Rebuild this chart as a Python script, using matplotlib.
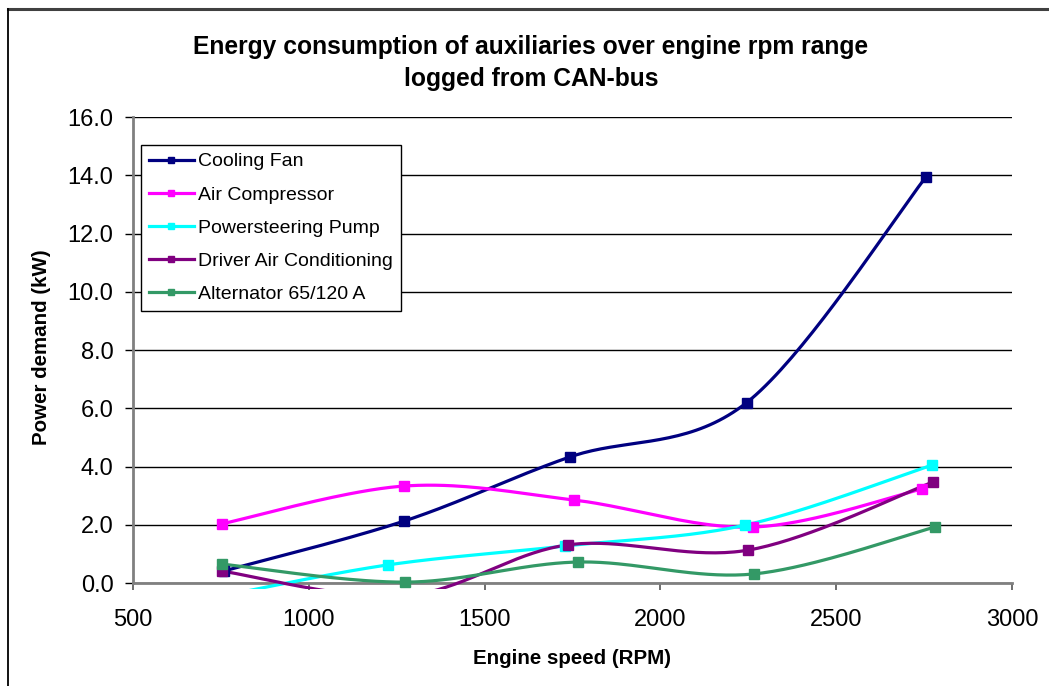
import numpy as np
import matplotlib
matplotlib.use("Agg")
import matplotlib.pyplot as plt
from matplotlib.lines import Line2D
from matplotlib.transforms import Bbox, TransformedBbox

plt.rcParams['font.family'] = ['Liberation Sans', 'DejaVu Sans']

# ---------------- data ----------------
series_names = ["Cooling Fan", "Air Compressor", "Powersteering Pump",
                "Driver Air Conditioning", "Alternator 65/120 A"]
series_colors = ["#000080", "#FF00FF", "#00FFFF", "#800080", "#339966"]

cooling_fan_rpm = [758, 1272, 1743, 2245, 2756]
cooling_fan_kw = [0.41, 2.13, 4.33, 6.19, 13.95]

air_compressor_rpm = [752, 1272, 1754, 2262, 2745]
air_compressor_kw = [2.03, 3.33, 2.85, 1.92, 3.23]

powersteering_rpm = [750, 1224, 1729, 2242, 2773]
powersteering_kw = [-0.45, 0.62, 1.27, 1.99, 4.05]

driver_ac_rpm = [752, 1270, 1737, 2250, 2776]
driver_ac_kw = [0.41, -0.45, 1.31, 1.13, 3.47]

alternator_rpm = [752, 1275, 1765, 2265, 2781]
alternator_kw = [0.65, 0.03, 0.72, 0.31, 1.92]

x_ticks = [500, 1000, 1500, 2000, 2500, 3000]
y_ticks = [0, 2, 4, 6, 8, 10, 12, 14, 16]

title_text = "Energy consumption of auxiliaries over engine rpm range\nlogged from CAN-bus"
x_label = "Engine speed (RPM)"
y_label = "Power demand (kW)"


def smooth(xs, ys, n=40):
    """Excel-like smoothed line (Catmull-Rom as cubic Bezier)."""
    P = np.column_stack([xs, ys]).astype(float)
    m = len(P)
    out = [P[0]]
    for i in range(m - 1):
        p0 = P[i - 1] if i > 0 else P[i]
        p1 = P[i]
        p2 = P[i + 1]
        p3 = P[i + 2] if i + 2 < m else P[i + 1]
        b1 = p1 + (p2 - p0) / 6.0
        b2 = p2 - (p3 - p1) / 6.0
        t = np.linspace(0, 1, n)[1:, None]
        seg = ((1 - t) ** 3) * p1 + 3 * ((1 - t) ** 2) * t * b1 \
            + 3 * (1 - t) * (t ** 2) * b2 + (t ** 3) * p2
        out.extend(seg)
    return np.array(out)


W, H = 1049, 686
fig = plt.figure(figsize=(W / 100, H / 100), dpi=100)
fig.patch.set_facecolor("white")

left_px, right_px, top_px, bottom_px = 133, 1012, 117, 583
ax = fig.add_axes([left_px / W, 1 - bottom_px / H,
                   (right_px - left_px) / W, (bottom_px - top_px) / H])

ax.set_xlim(500, 3000)
ax.set_ylim(0, 16)

# clip region slightly extended below the axis like Excel
clip = TransformedBbox(Bbox([[0, -0.012], [1, 1.0]]), ax.transAxes)

all_series = [
    (cooling_fan_rpm, cooling_fan_kw),
    (air_compressor_rpm, air_compressor_kw),
    (powersteering_rpm, powersteering_kw),
    (driver_ac_rpm, driver_ac_kw),
    (alternator_rpm, alternator_kw),
]

handles = []
for (xs, ys), name, col in zip(all_series, series_names, series_colors):
    c = smooth(xs, ys)
    ln, = ax.plot(c[:, 0], c[:, 1], color=col, lw=2.3, zorder=3)
    ln.set_clip_box(clip)
    mk, = ax.plot(xs, ys, 's', color=col, ms=6.5, zorder=4)
    mk.set_clip_box(clip)
    handles.append(Line2D([0], [0], color=col, lw=2.3, marker='s', ms=5))

ax.set_xticks(x_ticks)
ax.set_yticks(y_ticks)
ax.set_yticklabels([f"{v:.1f}" for v in y_ticks])
ax.grid(axis='y', color='black', lw=1.0, zorder=1)
ax.set_axisbelow(True)

for s in ['top', 'right']:
    ax.spines[s].set_visible(False)
for s in ['left', 'bottom']:
    ax.spines[s].set_color('#808080')
    ax.spines[s].set_linewidth(2.0)

ax.tick_params(axis='y', direction='out', length=6, width=1, color='black',
               labelsize=17, pad=8)
ax.tick_params(axis='x', direction='out', length=5, width=1.2, color='#555555',
               labelsize=17, pad=14)

leg = ax.legend(handles, series_names, loc='upper left',
                bbox_to_anchor=(141 / W, 1 - 145 / H),
                bbox_transform=fig.transFigure,
                fontsize=14, frameon=True, fancybox=False, shadow=False,
                borderaxespad=0, borderpad=0.4, labelspacing=0.8,
                handlelength=2.3, handletextpad=0.25)
leg.get_frame().set_edgecolor('black')
leg.get_frame().set_linewidth(1.0)
leg.get_frame().set_alpha(1)

fig.text(531 / W, 1 - 63 / H, title_text, ha='center', va='center',
         fontsize=17.7, fontweight='bold', linespacing=1.45)
fig.text(572 / W, 1 - 659 / H, x_label, ha='center', va='center',
         fontsize=14.8, fontweight='bold')
fig.text(42 / W, 1 - 347 / H, y_label, ha='center', va='center',
         fontsize=14.8, fontweight='bold', rotation=90)

# outer chart border
fig.add_artist(Line2D([8 / W, 1.0], [1 - 9 / H, 1 - 9 / H],
                      transform=fig.transFigure, color='#404040', lw=2.2))
fig.add_artist(Line2D([8 / W, 8 / W], [0.0, 1 - 9 / H],
                      transform=fig.transFigure, color='black', lw=1.3))

fig.savefig("out.png", dpi=100)
